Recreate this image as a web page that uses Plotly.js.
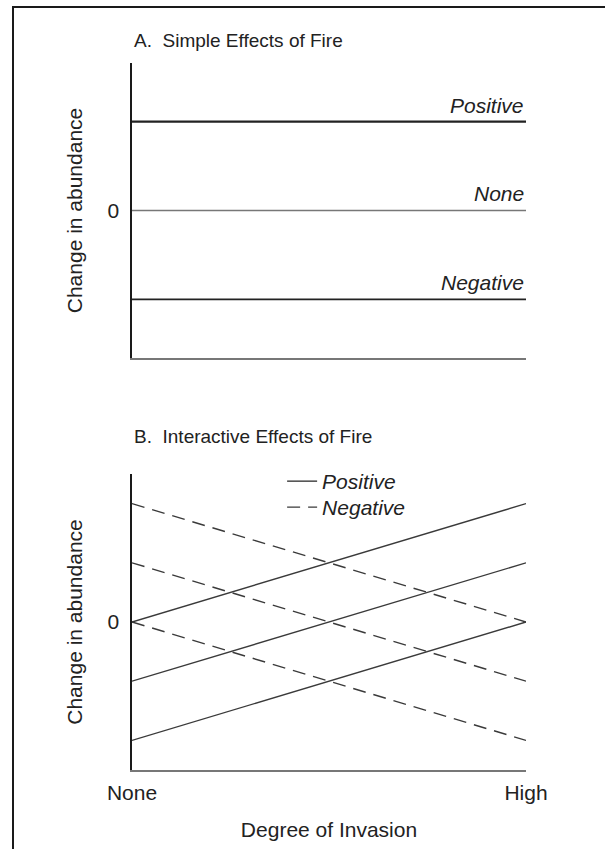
<!DOCTYPE html>
<html>
<head>
<meta charset="utf-8">
<script src="https://cdn.plot.ly/plotly-3.0.1.min.js"></script>
<style>
  html, body { margin: 0; padding: 0; background: #fff; }
  #wrap { position: relative; width: 605px; height: 849px; overflow: hidden; }
  #chart { width: 605px; height: 849px; }
  #frame { position: absolute; left: 12px; top: 6px; width: 700px; height: 900px;
           border-left: 2px solid #1a1a1a; border-top: 2px solid #1a1a1a; pointer-events: none; }
</style>
</head>
<body>
<div id="wrap">
  <div id="chart"></div>
  <div id="frame"></div>
</div>
<script>
// ---- Data ----
// Panel A: simple effects of fire (horizontal responses)
const simpleLabels = ['Positive', 'None', 'Negative'];
const simpleValues = [1, 0, -1];
const simpleX = [0, 1];

// Panel B: interactive effects of fire across degree of invasion
const invasionTicks = ['None', 'High'];
const invasionX = [0, 1];
const positiveStart = [0, -1, -2];
const positiveEnd = [2, 1, 0];
const negativeStart = [2, 1, 0];
const negativeEnd = [0, -1, -2];

const FONT = 'Liberation Sans, Arial, Helvetica, sans-serif';
const FS = 21;
const FT = 19;
const TXT = '#222';

const traces = [];
const simpleColors = ['#222', '#777', '#222'];
const simpleWidths = [2.2, 1.4, 1.6];
simpleValues.forEach((v, i) => {
  traces.push({
    x: simpleX, y: [v, v], xaxis: 'x', yaxis: 'y',
    mode: 'lines', showlegend: false, hoverinfo: 'skip',
    line: { color: simpleColors[i], width: simpleWidths[i] }
  });
});
positiveStart.forEach((s, i) => {
  traces.push({
    x: invasionX, y: [s, positiveEnd[i]], xaxis: 'x2', yaxis: 'y2',
    mode: 'lines', name: 'Positive', legend: 'legend', showlegend: i === 0,
    hoverinfo: 'skip', line: { color: '#3a3a3a', width: 1.4 }
  });
});
negativeStart.forEach((s, i) => {
  traces.push({
    x: invasionX, y: [s, negativeEnd[i]], xaxis: 'x2', yaxis: 'y2',
    mode: 'lines', name: 'Negative', legend: 'legend2', showlegend: i === 0,
    hoverinfo: 'skip', line: { color: '#3a3a3a', width: 1.4, dash: '13px,8px' }
  });
});

const annotations = simpleLabels.map((t, i) => ({
  text: t, x: 1, y: simpleValues[i], xref: 'x', yref: 'y',
  xanchor: 'right', yanchor: 'bottom', yshift: 3, showarrow: false,
  font: { family: FONT, size: FS, color: TXT, style: 'italic' }
}));
annotations.push({
  text: 'A.  Simple Effects of Fire', xref: 'paper', yref: 'paper',
  x: 0, y: 1 - 40 / 849, xanchor: 'left', yanchor: 'middle', showarrow: false,
  font: { family: FONT, size: FT, color: TXT }
});
annotations.push({
  text: 'B.  Interactive Effects of Fire', xref: 'paper', yref: 'paper',
  x: 0, y: 1 - 436 / 849, xanchor: 'left', yanchor: 'middle', showarrow: false,
  font: { family: FONT, size: FT, color: TXT }
});

const baseX = {
  range: [0, 1], showgrid: false, zeroline: false, showline: true,
  linecolor: '#777', linewidth: 2, fixedrange: true
};
const baseY = {
  showgrid: false, zeroline: false, showline: true, linecolor: '#1a1a1a',
  linewidth: 2.5, tickvals: [0], ticktext: ['0'], ticks: '',
  ticklabelstandoff: 6, tickfont: { family: FONT, size: FS, color: TXT },
  fixedrange: true
};

const legendBase = {
  xanchor: 'left', yanchor: 'top', bgcolor: 'rgba(0,0,0,0)',
  font: { family: FONT, size: FS, color: TXT, style: 'italic' }
};

const layout = {
  width: 605, height: 849,
  margin: { l: 132, r: 79, t: 0, b: 0 },
  paper_bgcolor: '#fff', plot_bgcolor: '#fff',
  font: { family: FONT, size: FS, color: TXT },
  xaxis: Object.assign({}, baseX, { domain: [0, 1], anchor: 'y', showticklabels: false, ticks: '' }),
  yaxis: Object.assign({}, baseY, {
    domain: [1 - 358 / 849, 1 - 63 / 849], anchor: 'x', range: [-1.66, 1.66],
    title: { text: 'Change in abundance', standoff: 20, font: { family: FONT, size: FS, color: TXT } }
  }),
  xaxis2: Object.assign({}, baseX, {
    domain: [0, 1], anchor: 'y2', tickvals: invasionX, ticktext: invasionTicks, ticks: '',
    ticklabelstandoff: 3, tickfont: { family: FONT, size: FS, color: TXT },
    title: { text: 'Degree of Invasion', standoff: 19, font: { family: FONT, size: FS, color: TXT } }
  }),
  yaxis2: Object.assign({}, baseY, {
    domain: [1 - 770 / 849, 1 - 474 / 849], anchor: 'x2', range: [-2.5, 2.5],
    title: { text: 'Change in abundance', standoff: 20, font: { family: FONT, size: FS, color: TXT } }
  }),
  showlegend: true,
  legend: Object.assign({}, legendBase, { x: 0.381, y: 1 - 461 / 849 }),
  legend2: Object.assign({}, legendBase, { x: 0.381, y: 1 - 487 / 849 }),
  annotations: annotations
};

Plotly.newPlot('chart', traces, layout, { staticPlot: true, displayModeBar: false });
</script>
</body>
</html>
